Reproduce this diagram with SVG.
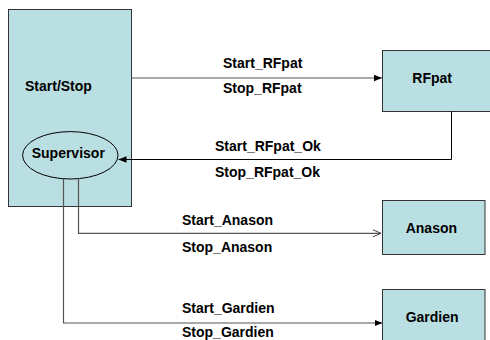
<svg xmlns="http://www.w3.org/2000/svg" width="490" height="340" viewBox="0 0 490 340">
  <style>
    .box { fill: #BADFE2; stroke: #333; stroke-width: 1; }
    .lbl { font-family: "Liberation Sans", Arial, sans-serif; font-weight: bold; font-size: 14px; fill: #000; }
    .wire { fill: none; stroke: #000; stroke-width: 1; }
    .wg { fill: none; stroke: #555; stroke-width: 1.2; }
  </style>
  <defs>
    <marker id="fill" viewBox="0 0 8 8" refX="8" refY="4" markerWidth="8" markerHeight="8" markerUnits="userSpaceOnUse" orient="auto">
      <path d="M0,0.8 L8,4 L0,7.2 Z" fill="#000"/>
    </marker>
    <marker id="open" viewBox="0 0 10 10" refX="9" refY="5" markerWidth="10" markerHeight="10" markerUnits="userSpaceOnUse" orient="auto">
      <path d="M1,1.5 L9,5 L1,8.5" fill="none" stroke="#444" stroke-width="1"/>
    </marker>
  </defs>
  <rect width="490" height="340" fill="#fff"/>

  <g id="startstop">
    <rect class="box" x="8.5" y="9.5" width="123" height="197"/>
    <text class="lbl" x="25" y="91">Start/Stop</text>
  </g>
  <g id="supervisor">
    <ellipse cx="70.3" cy="155.3" rx="47.7" ry="23.7" fill="none" stroke="#000" stroke-width="1"/>
    <text class="lbl" x="31.7" y="158.3">Supervisor</text>
  </g>
  <g id="rfpat">
    <rect class="box" x="382.5" y="50.5" width="120" height="61"/>
    <text class="lbl" x="412.3" y="82.5">RFpat</text>
  </g>
  <g id="anason">
    <rect class="box" x="382.5" y="200.5" width="102.5" height="54"/>
    <text class="lbl" x="405.7" y="233">Anason</text>
  </g>
  <g id="gardien">
    <rect class="box" x="382.5" y="289.5" width="102.5" height="60"/>
    <text class="lbl" x="405.7" y="321.5">Gardien</text>
  </g>

  <g id="connectors">
    <line class="wg" x1="131.5" y1="78" x2="382" y2="78" marker-end="url(#fill)"/>
    <polyline class="wire" points="451.5,111.5 451.5,159.5 118.5,159.5" marker-end="url(#fill)"/>
    <polyline class="wg" points="78.5,178.5 78.5,233.3 381,233.3" marker-end="url(#open)"/>
    <polyline class="wg" points="63.5,178.5 63.5,323 382.5,323" marker-end="url(#fill)"/>
  </g>

  <g id="labels">
    <text class="lbl" x="223" y="68.3">Start_RFpat</text>
    <text class="lbl" x="223" y="92.5">Stop_RFpat</text>
    <text class="lbl" x="215" y="151">Start_RFpat_Ok</text>
    <text class="lbl" x="215" y="177">Stop_RFpat_Ok</text>
    <text class="lbl" x="182" y="225">Start_Anason</text>
    <text class="lbl" x="182" y="252">Stop_Anason</text>
    <text class="lbl" x="182" y="313.3">Start_Gardien</text>
    <text class="lbl" x="182" y="336.5">Stop_Gardien</text>
  </g>
</svg>
